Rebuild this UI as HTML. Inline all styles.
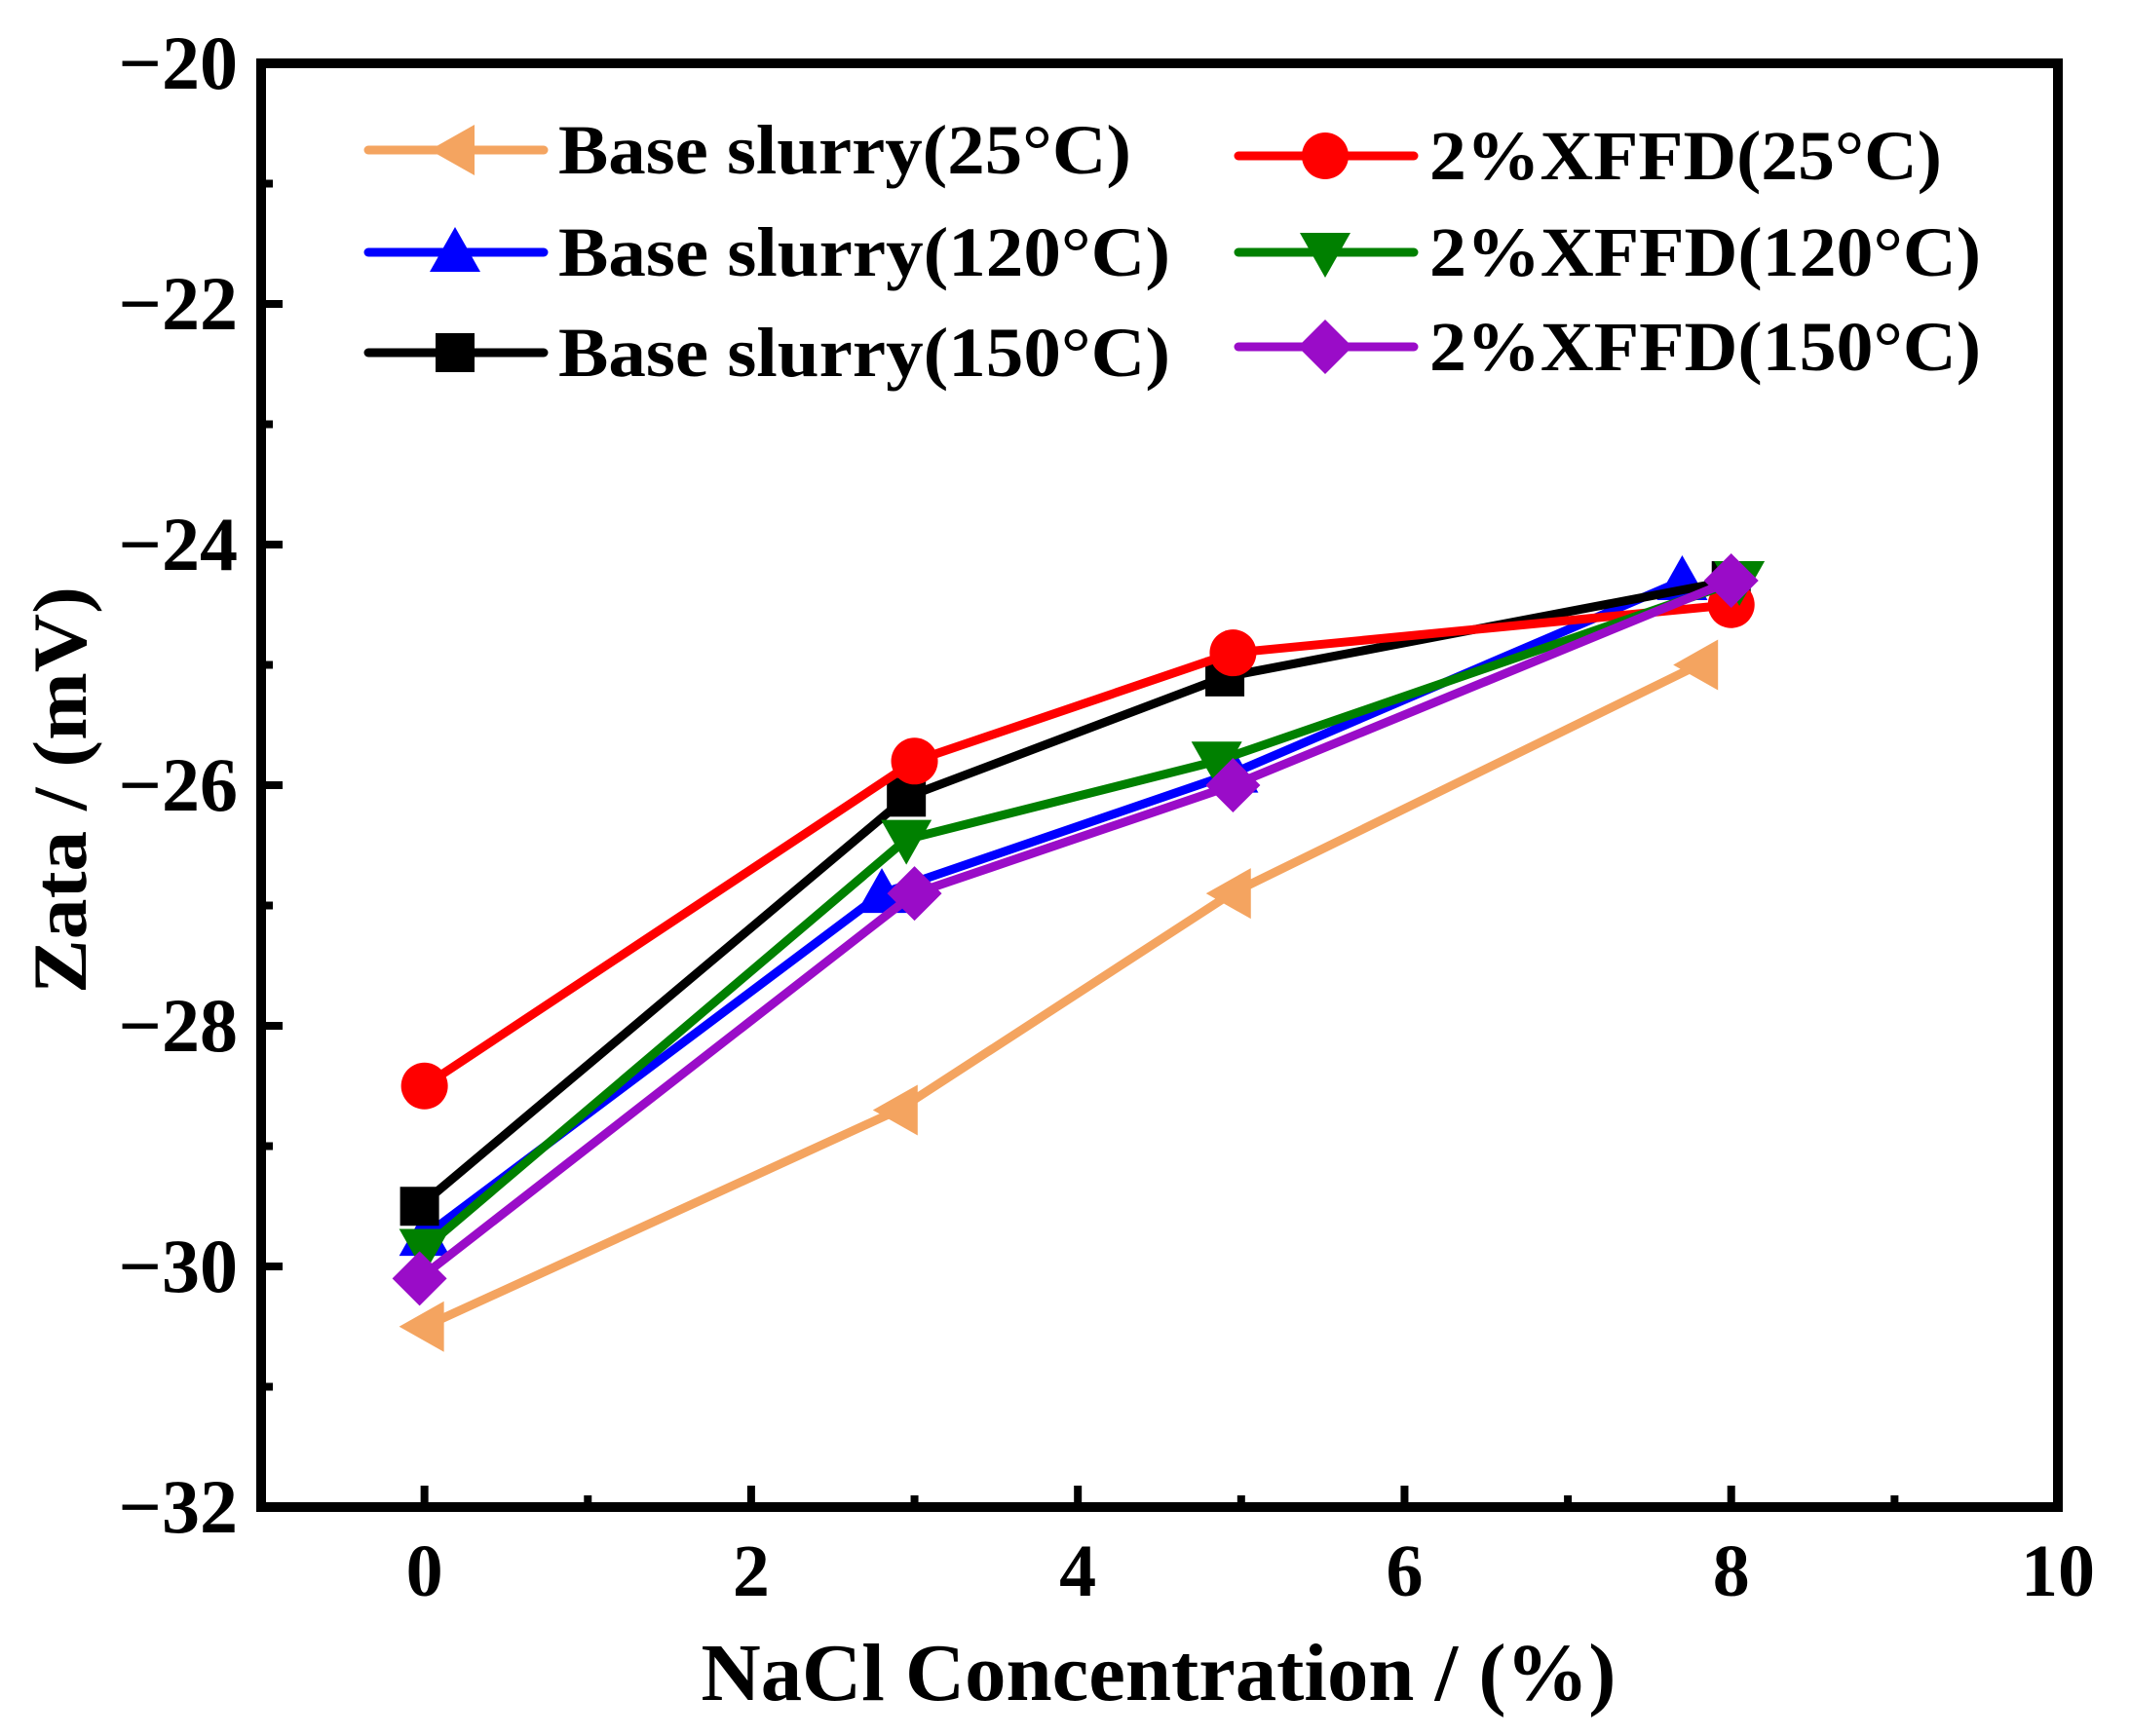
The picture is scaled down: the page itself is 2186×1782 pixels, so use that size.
<!DOCTYPE html>
<html><head><meta charset="utf-8"><style>
html,body{margin:0;padding:0;background:#fff;}
svg{display:block;font-family:"Liberation Serif",serif;font-weight:bold;}
</style></head><body>
<svg id="chart" width="2186" height="1782" viewBox="0 0 2186 1782">
<g id="marks"></g>
<rect x="268" y="65" width="1844" height="1482" fill="none" stroke="#000" stroke-width="10"/>
<g id="axes"></g>
<text x="1189" y="1745" font-size="84" text-anchor="middle" textLength="939" lengthAdjust="spacingAndGlyphs">NaCl Concentration / (%)</text>
<text transform="translate(88,811) rotate(-90)" font-size="78" text-anchor="middle" textLength="418" lengthAdjust="spacingAndGlyphs">Zata / (mV)</text>
<g id="legend"></g>
</svg>
<script>
const xTicks=[0,2,4,6,8,10];
const yTicks=[-20,-22,-24,-26,-28,-30,-32];
const seriesNames=["Base slurry(25°C)","Base slurry(120°C)","Base slurry(150°C)","2%XFFD(25°C)","2%XFFD(120°C)","2%XFFD(150°C)"];
const xBase25=[0,2.9,4.94,7.8], yBase25=[-30.5,-28.7,-26.9,-25.0];
const xBase120=[0,2.8,4.95,7.7], yBase120=[-29.75,-26.9,-25.9,-24.3];
const xBase150=[-0.03,2.95,4.9,8], yBase150=[-29.5,-26.1,-25.1,-24.3];
const xX25=[0,3,4.95,8], yX25=[-28.5,-25.8,-24.9,-24.5];
const xX120=[0,2.95,4.85,8.05], yX120=[-29.85,-26.45,-25.8,-24.3];
const xX150=[-0.03,3,4.95,8], yX150=[-30.1,-26.9,-26.0,-24.3];

const NS="http://www.w3.org/2000/svg";
const L=268,R=2112,T=65,B=1547;
function sx(v){return L+(v+1)/11*(R-L);}
function sy(v){return T+(-20-v)/12*(B-T);}
function mk(tag,attrs,parent){const e=document.createElementNS(NS,tag);for(const k in attrs)e.setAttribute(k,attrs[k]);parent.appendChild(e);return e;}
const axes=document.getElementById('axes'),marks=document.getElementById('marks'),legend=document.getElementById('legend');
for(let v=0;v<10;v++){
  const x=sx(v),len=(v%2===0)?22:12;
  const t=mk('line',{x1:x,x2:x,y1:B,y2:B-len,stroke:'#000','stroke-width':8},axes);
  
  
}
xTicks.forEach(v=>{const t=mk('text',{x:sx(v),y:1638,'font-size':76,'text-anchor':'middle'},axes);t.textContent=String(v);

});
for(let v=-31;v<=-21;v++){
  const y=sy(v),len=(v%2===0)?22:12;
  const t=mk('line',{x1:L,x2:L+len,y1:y,y2:y,stroke:'#000','stroke-width':8},axes);
  
  
}
yTicks.forEach(v=>{const t=mk('text',{x:244,y:sy(v)+26,'font-size':78,'text-anchor':'end'},axes);t.textContent='\u2212'+Math.abs(v);

});

function marker(type,cx,cy,color,parent){
  let e;const r=24;
  if(type==='circle')e=mk('circle',{cx,cy,r,fill:color},parent);
  else if(type==='square')e=mk('rect',{x:cx-20,y:cy-20,width:40,height:40,fill:color},parent);
  else if(type==='up')e=mk('polygon',{points:`${cx},${cy-26} ${cx+26},${cy+20} ${cx-26},${cy+20}`,fill:color},parent);
  else if(type==='down')e=mk('polygon',{points:`${cx},${cy+26} ${cx+26},${cy-20} ${cx-26},${cy-20}`,fill:color},parent);
  else if(type==='left')e=mk('polygon',{points:`${cx-26},${cy} ${cx+20},${cy-26} ${cx+20},${cy+26}`,fill:color},parent);
  else if(type==='diamond')e=mk('polygon',{points:`${cx},${cy-28} ${cx+28},${cy} ${cx},${cy+28} ${cx-28},${cy}`,fill:color},parent);
  return e;
}
const series=[
 {xs:xBase25,ys:yBase25,c:'#F4A460',m:'left',n:'base-25',lx:378,ly:154},
 {xs:xBase120,ys:yBase120,c:'#0000FF',m:'up',n:'base-120',lx:378,ly:259},
 {xs:xBase150,ys:yBase150,c:'#000000',m:'square',n:'base-150',lx:378,ly:362},
 {xs:xX25,ys:yX25,c:'#FF0000',m:'circle',n:'xffd-25',lx:1271,ly:160},
 {xs:xX120,ys:yX120,c:'#008000',m:'down',n:'xffd-120',lx:1271,ly:259},
 {xs:xX150,ys:yX150,c:'#9A0CC8',m:'diamond',n:'xffd-150',lx:1271,ly:356}
];
const textW=[588,628,628,526,566,566];
series.forEach((s,i)=>{
  const g=mk('g',{},marks);
  
  
  const pts=s.xs.map((x,j)=>sx(x)+','+sy(s.ys[j])).join(' ');
  const pl=mk('polyline',{points:pts,fill:'none',stroke:s.c,'stroke-width':9,'stroke-linejoin':'round','stroke-linecap':'round'},g);
  
  
  s.xs.forEach((x,j)=>{const m=marker(s.m,sx(x),sy(s.ys[j]),s.c,g);
    
    });
  const le=mk('g',{},legend);
  
  
  mk('line',{x1:s.lx,x2:s.lx+180,y1:s.ly,y2:s.ly,stroke:s.c,'stroke-width':9,'stroke-linecap':'round'},le);
  marker(s.m,s.lx+89,s.ly,s.c,le);
  const t=mk('text',{x:s.lx+(i<3?195:196),y:s.ly+24,'font-size':72,textLength:textW[i],lengthAdjust:'spacingAndGlyphs'},le);
  t.textContent=seriesNames[i];
});
</script>
</body></html>
